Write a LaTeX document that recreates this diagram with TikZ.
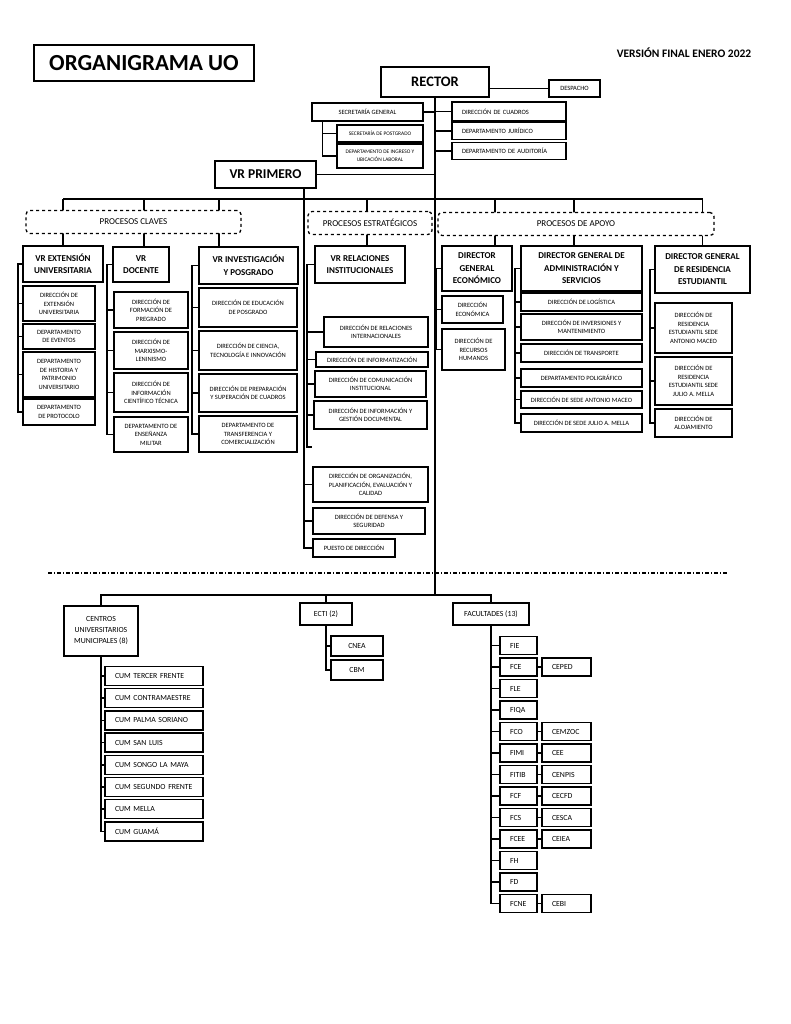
\documentclass[tikz,border=0pt]{standalone}
\usepackage{fontspec}
\setmainfont{Carlito}

\newcommand{\txs}{\fontsize{6.5}{8.6}\selectfont}
\newcommand{\txp}{\fontsize{5.4}{8}\selectfont}
\newcommand{\txh}{\fontsize{9}{12.5}\selectfont\bfseries}
\newcommand{\txb}{\fontsize{7.8}{11}\selectfont}

\begin{document}
\begin{tikzpicture}[x=1pt, y=-1pt,
    sz/.style 2 args={minimum width=#1, minimum height=#2},
    box/.style={draw, line width=1.3pt, fill=white, align=center, inner sep=1pt, font=\txs},
    lbox/.style={box, align=left, inner xsep=10pt, text width=#1},
    head/.style={draw, line width=1.7pt, fill=white, align=center, inner sep=1pt, font=\txh},
    grp/.style={draw, dashed, line width=1.3pt, rounded corners=4pt, fill=white, inner sep=1pt, font=\fontsize{9}{11}\selectfont},
    conn/.style={line width=1.6pt}]

		\useasboundingbox[fill=white] (0,0) rectangle (791,1024);

		% top
		\node[draw, line width=1.8pt, sz={220}{36}, font=\fontsize{23}{23}\selectfont\bfseries] (title) at (144,63) {ORGANIGRAMA UO};
		\node[font=\fontsize{11.5}{12}\selectfont\bfseries] (version) at (684,53) {VERSIÓN FINAL ENERO 2022};
		\node[head, sz={108}{30}, font=\fontsize{14.5}{15}\selectfont\bfseries] (rector) at (435,82) {RECTOR};
		\node[box, sz={51}{17}] (despacho) at (574.5,88.5) {DESPACHO};
		\node[box, sz={111}{18}] (sg) at (367.5,112) {SECRETARÍA GENERAL};
		\node[box, sz={86}{17}, font=\txp] (spos) at (380,133.5) {SECRETARÍA DE POSTGRADO};
		\node[box, sz={86}{24}, font=\txp] (ding) at (380,156) {DEPARTAMENTO DE INGRESO Y\\UBICACIÓN LABORAL};
		\node[lbox=94, minimum height=19] (dcua) at (509,111.5) {DIRECCIÓN DE CUADROS};
		\node[lbox=94, minimum height=17] (djur) at (509,131) {DEPARTAMENTO JURÍDICO};
		\node[lbox=94, minimum height=17] (daud) at (509,151) {DEPARTAMENTO DE AUDITORÍA};
		\node[head, sz={101}{27}, font=\fontsize{13.5}{14}\selectfont\bfseries] (vrp) at (265.5,174.5) {VR PRIMERO};

		\coordinate (bus) at (0,199);
		\coordinate (bus2) at (0,595);
		\draw[conn] (despacho.west) -- (despacho.west -| rector.east);
		\draw[conn] (rector.south) -- (rector.south |- bus2);
		\draw[conn] (sg.east) -- (sg.east -| rector.south);
		\foreach \c in {dcua,djur,daud}
			\draw[conn] (\c.west) -- (\c.west -| rector.south);
		\coordinate (sgb) at ([xshift=11]sg.south west);
		\draw[conn] (sgb) |- (ding.west);
		\draw[conn] (spos.west) -- (spos.west -| sgb);
		\draw[conn] (vrp.east) -- (vrp.east -| rector.south);

		% vicerrectorias y direcciones generales
		\node[head, sz={80}{36}] (vrext) at (63,264) {VR EXTENSIÓN\\UNIVERSITARIA};
		\node[head, sz={56}{35}] (vrdoc) at (141,264.5) {VR\\DOCENTE};
		\node[head, sz={99}{37}] (vrinv) at (248.5,265.5) {VR INVESTIGACIÓN\\Y POSGRADO};
		\node[head, sz={90}{37}] (vrrel) at (360,264.5) {VR RELACIONES\\INSTITUCIONALES};
		\node[head, sz={70}{45}] (dge) at (477,268.5) {DIRECTOR\\GENERAL\\ECONÓMICO};
		\node[head, sz={121}{45}] (dgas) at (581.5,268.5) {DIRECTOR GENERAL DE\\ADMINISTRACIÓN Y\\SERVICIOS};
		\node[head, sz={95}{47}] (dgre) at (702.5,269.5) {DIRECTOR GENERAL\\DE RESIDENCIA\\ESTUDIANTIL};

		\draw[conn] (vrext.north |- bus) -- (dgre.north |- bus);
		\foreach \c/\s in {vrext/0, vrdoc/3, vrinv/-29.5, vrrel/7, dge/18, dgas/-7.5, dgre/0} {
			\path ([xshift=\s]\c.north) coordinate (d\c);
			\draw[conn] (d\c) -- (d\c |- bus);
		}
		\node[grp, sz={215}{23}] (pclaves) at (133.5,222) {PROCESOS CLAVES};
		\node[grp, sz={124}{23}] (pestr) at (370,223) {PROCESOS ESTRATÉGICOS};
		\node[grp, sz={276}{23}] (papoyo) at (576,224) {PROCESOS DE APOYO};

		% VR extension
		\node[box, sz={72}{35}] (e1) at (59,303.5) {DIRECCIÓN DE\\EXTENSIÓN\\UNIVERSITARIA};
		\node[box, sz={72}{25}] (e2) at (59,336.5) {DEPARTAMENTO\\DE EVENTOS};
		\node[box, sz={72}{45}] (e3) at (59,374.5) {DEPARTAMENTO\\DE HISTORIA Y\\PATRIMONIO\\UNIVERSITARIO};
		\node[box, sz={72}{26}] (e4) at (59,412) {DEPARTAMENTO\\DE PROTOCOLO};
		\draw[conn] (vrext.west) -- ++(-4,0) coordinate (extb) |- (e4.west);
		\foreach \c in {e1,e2,e3}
			\draw[conn] (\c.west) -- (\c.west -| extb);

		% VR docente
		\node[box, sz={74}{36}] (d1) at (151,310) {DIRECCIÓN DE\\FORMACIÓN DE\\PREGRADO};
		\node[box, sz={74}{37}] (d2) at (151,350.5) {DIRECCIÓN DE\\MARXISMO-\\LENINISMO};
		\node[box, sz={74}{39}] (d3) at (151,392.5) {DIRECCIÓN DE\\INFORMACIÓN\\CIENTÍFICO TÉCNICA};
		\node[box, sz={74}{35}] (d4) at (151,434.5) {DEPARTAMENTO DE\\ENSEÑANZA\\MILITAR};
		\draw[conn] (vrdoc.west) -- ++(-5,0) coordinate (docb) |- (d4.west);
		\foreach \c in {d1,d2,d3}
			\draw[conn] (\c.west) -- (\c.west -| docb);

		% VR investigacion
		\node[box, sz={98}{39}] (i1) at (248,307.5) {DIRECCIÓN DE EDUCACIÓN\\DE POSGRADO};
		\node[box, sz={98}{39}] (i2) at (248,350.5) {DIRECCIÓN DE CIENCIA,\\TECNOLOGÍA E INNOVACIÓN};
		\node[box, sz={98}{38}] (i3) at (248,393) {DIRECCIÓN DE PREPARACIÓN\\Y SUPERACIÓN DE CUADROS};
		\node[box, sz={98}{36}] (i4) at (248,434) {DEPARTAMENTO DE\\TRANSFERENCIA Y\\COMERCIALIZACIÓN};
		\draw[conn] (vrinv.west) -- ++(-6,0) coordinate (invb) |- (i4.west);
		\foreach \c in {i1,i2,i3}
			\draw[conn] (\c.west) -- (\c.west -| invb);

		% VR relaciones
		\node[box, sz={104}{30}] (r1) at (376,332) {DIRECCIÓN DE RELACIONES\\INTERNACIONALES};
		\node[box, sz={112}{15}] (r2) at (372,359.5) {DIRECCIÓN DE INFORMATIZACIÓN};
		\node[box, sz={111}{26}] (r3) at (370.5,384) {DIRECCIÓN DE COMUNICACIÓN\\INSTITUCIONAL};
		\node[box, sz={113}{28}] (r4) at (370.5,415) {DIRECCIÓN DE INFORMACIÓN Y\\GESTIÓN DOCUMENTAL};
		\draw[conn] (vrrel.west) -- ++(-7,0) coordinate (relb) -- ++(0,182.5) -- ++(5,0);
		\foreach \c in {r1,r2,r3,r4}
			\draw[conn] (\c.west) -- (\c.west -| relb);

		% VR primero
		\node[box, sz={115}{35}] (o1) at (370.5,484.5) {DIRECCIÓN DE ORGANIZACIÓN,\\PLANIFICACIÓN, EVALUACIÓN Y\\CALIDAD};
		\node[box, sz={112}{26}] (o2) at (369,521) {DIRECCIÓN DE DEFENSA Y\\SEGURIDAD};
		\node[box, sz={82}{18}] (o3) at (354,548) {PUESTO DE DIRECCIÓN};
		\coordinate (vrpl) at ([xshift=-13]vrp.south east);
		\draw[conn] (vrpl) |- (o3.west);
		\foreach \c in {o1,o2}
			\draw[conn] (\c.west) -- (\c.west -| vrpl);

		% economico
		\node[box, sz={61}{27}] (ec1) at (472.5,309.5) {DIRECCIÓN\\ECONÓMICA};
		\node[box, sz={63}{41}] (ec2) at (473.5,349.5) {DIRECCIÓN DE\\RECURSOS\\HUMANOS};
		\draw[conn] (dge.west) -- ++(-5,0) coordinate (ecob) |- (ec2.west);
		\draw[conn] (ec1.west) -- (ec1.west -| ecob);

		% administracion y servicios
		\node[box, sz={121}{18}] (a1) at (581.5,302) {DIRECCIÓN DE LOGÍSTICA};
		\node[box, sz={121}{26}] (a2) at (581.5,327) {DIRECCIÓN DE INVERSIONES Y\\MANTENIMIENTO};
		\node[box, sz={121}{18}] (a3) at (581.5,353) {DIRECCIÓN DE TRANSPORTE};
		\node[box, sz={121}{18}] (a4) at (581.5,378) {DEPARTAMENTO POLIGRÁFICO};
		\node[box, sz={121}{17}] (a5) at (581.5,399.5) {DIRECCIÓN DE SEDE ANTONIO MACEO};
		\node[box, sz={121}{18}] (a6) at (581.5,423) {DIRECCIÓN DE SEDE JULIO A. MELLA};
		\draw[conn] (dgas.west) -- ++(-5,0) coordinate (admb) |- (a6.west);
		\foreach \c in {a1,a2,a3,a4,a5}
			\draw[conn] (\c.west) -- (\c.west -| admb);

		% residencia
		\node[box, sz={77}{50}] (re1) at (693.5,328) {DIRECCIÓN DE\\RESIDENCIA\\ESTUDIANTIL SEDE\\ANTONIO MACEO};
		\node[box, sz={77}{48}] (re2) at (693.5,381) {DIRECCIÓN DE\\RESIDENCIA\\ESTUDIANTIL SEDE\\JULIO A. MELLA};
		\node[box, sz={77}{28}] (re3) at (693.5,423) {DIRECCIÓN DE\\ALOJAMIENTO};
		\draw[conn] (dgre.west) -- ++(-4,0) coordinate (resb) |- (re3.west);
		\foreach \c in {re1,re2}
			\draw[conn] (\c.west) -- (\c.west -| resb);

		% separador
		\coordinate (sepw) at (48,573);
		\coordinate (sepe) at (728,573);
		\draw[line width=1.1pt, dash pattern=on 4pt off 2pt on 1pt off 2pt] (sepw) -- (sepe);

		% centros, ECTI y facultades
		\node[box, sz={74}{50}, font=\txb] (centros) at (101,631) {CENTROS\\UNIVERSITARIOS\\MUNICIPALES (8)};
		\node[box, sz={52}{22}, font=\txb] (ecti) at (326,614) {ECTI (2)};
		\node[box, sz={76}{22}, font=\txb] (fac) at (491,614) {FACULTADES (13)};
		\draw[conn] (centros.north) -- (centros.north |- bus2) -- (fac.north |- bus2) -- (fac.north);
		\draw[conn] (ecti.north) -- (ecti.north |- bus2);

		\foreach \n [count=\i] in {TERCER FRENTE, CONTRAMAESTRE, PALMA SORIANO, SAN LUIS, SONGO LA MAYA, SEGUNDO FRENTE, MELLA, GUAMÁ}
			\node[lbox=78, minimum height=19, font=\txb] (cum\i) at (154,{676+22.2*(\i-1)}) {CUM \n};
		\draw[conn] (centros.south) |- (cum8.west);
		\foreach \i in {1,...,7}
			\draw[conn] (cum\i.west) -- (cum\i.west -| centros.south);

		\node[box, sz={52}{20}, font=\txb] (cnea) at (357,646) {CNEA};
		\node[box, sz={52}{20}, font=\txb] (cbm) at (357,670) {CBM};
		\draw[conn] (ecti.south) |- (cbm.west);
		\draw[conn] (cnea.west) -- (cnea.west -| ecti.south);

		\foreach \n [count=\i] in {FIE,FCE,FLE,FIQA,FCO,FIMI,FITIB,FCF,FCS,FCEE,FH,FD,FCNE}
			\node[lbox=17, minimum height=18, font=\txb] (f\i) at (518.5,{645.5+21.5*(\i-1)}) {\n};
		\draw[conn] (fac.south) |- (f13.west);
		\foreach \i in {1,...,12}
			\draw[conn] (f\i.west) -- (f\i.west -| fac.south);
		\foreach \i/\n in {2/CEPED,5/CEMZOC,6/CEE,7/CENPIS,8/CECFD,9/CESCA,10/CEIEA,13/CEBI} {
			\node[lbox=29, minimum height=18, font=\txb] (c\i) at (566.5,{645.5+21.5*(\i-1)}) {\n};
			\draw[conn] (f\i.east) -- (c\i.west);
		}

	\end{tikzpicture}
\end{document}
